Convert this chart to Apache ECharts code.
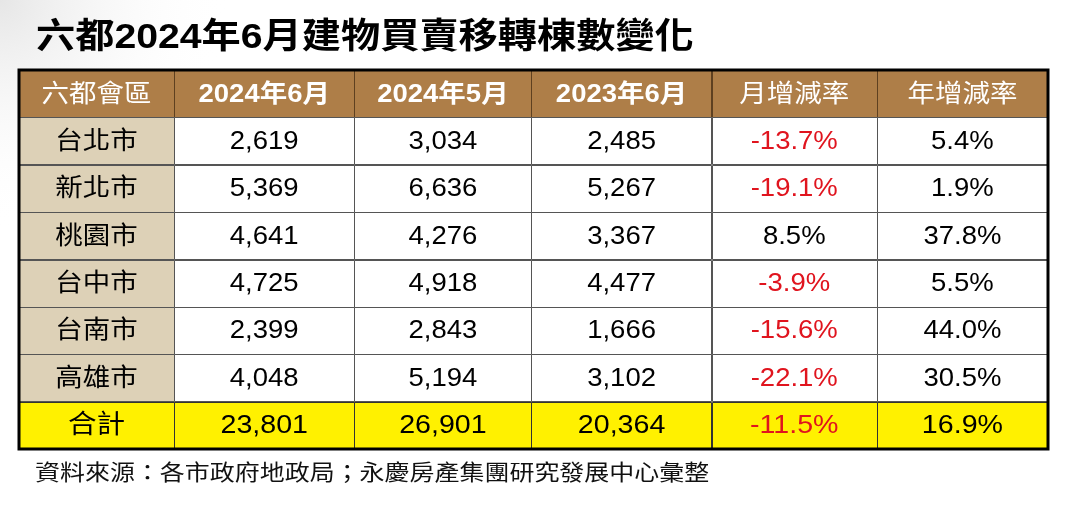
<!DOCTYPE html>
<html><head><meta charset="utf-8">
<script src="https://cdn.jsdelivr.net/npm/echarts@6/dist/echarts.min.js"></script>
<style>html,body{margin:0;padding:0;background:#fff}#c{width:1079px;height:509px}</style>
</head><body><div id="c"></div>
<script>
// ---- data ----
const titleText = '六都2024年6月建物買賣移轉棟數變化';
const sourceText = '資料來源：各市政府地政局；永慶房產集團研究發展中心彙整';
const headers = ['六都會區', '2024年6月', '2024年5月', '2023年6月', '月增減率', '年增減率'];
const cities = ['台北市', '新北市', '桃園市', '台中市', '台南市', '高雄市', '合計'];
const jun2024 = [2619, 5369, 4641, 4725, 2399, 4048, 23801];
const may2024 = [3034, 6636, 4276, 4918, 2843, 5194, 26901];
const jun2023 = [2485, 5267, 3367, 4477, 1666, 3102, 20364];
const momPct = [-13.7, -19.1, 8.5, -3.9, -15.6, -22.1, -11.5];
const yoyPct = [5.4, 1.9, 37.8, 5.5, 44.0, 30.5, 16.9];

// ---- layout (not data) ----
const colWidths = [155, 180, 177, 180, 165, 171];
const edges = [0];
colWidths.forEach(w => edges.push(edges[edges.length - 1] + w));
const rows = ['header'].concat(cities);

const fmtN = v => v.toLocaleString('en-US');
const fmtP = v => v.toFixed(1) + '%';

const cells = [];
rows.forEach((rname, r) => {
  for (let c = 0; c < 6; c++) {
    let text, kind, neg = false;
    if (r === 0) { text = headers[c]; kind = 'header'; }
    else {
      const i = r - 1;
      kind = (i === cities.length - 1) ? 'total' : (c === 0 ? 'city' : 'body');
      if (c === 0) text = cities[i];
      else if (c === 1) text = fmtN(jun2024[i]);
      else if (c === 2) text = fmtN(may2024[i]);
      else if (c === 3) text = fmtN(jun2023[i]);
      else if (c === 4) { text = fmtP(momPct[i]); neg = momPct[i] < 0; }
      else { text = fmtP(yoyPct[i]); neg = yoyPct[i] < 0; }
    }
    cells.push({ value: [c, r], text, kind, neg });
  }
});

const FONT = "'Liberation Sans', Arial, 'Noto Sans CJK TC', sans-serif";
const chart = echarts.init(document.getElementById('c'), null, { renderer: 'canvas' });

chart.setOption({
  backgroundColor: '#ffffff',
  animation: false,
  grid: { left: 19, right: 31, top: 70, bottom: 60, show: true, borderColor: '#000', borderWidth: 3, z: 10, backgroundColor: 'transparent' },
  xAxis: { type: 'value', min: 0, max: edges[edges.length - 1], show: false },
  yAxis: { type: 'category', data: rows, inverse: true, show: false },
  graphic: [
    { type: 'rect', z: -10, silent: true, shape: { x: 0, y: 0, width: 1079, height: 509 },
      style: { fill: new echarts.graphic.RadialGradient(0, 0, 0.45, [{ offset: 0, color: '#e6e6e6' }, { offset: 1, color: 'rgba(255,255,255,0)' }]) } },
    { type: 'text', x: 36, y: 38, scaleX: 1.12, z: 20,
      style: { text: titleText, fill: '#000', fontSize: 35, fontWeight: 'bold', fontFamily: FONT, align: 'left', verticalAlign: 'middle' } },
    { type: 'text', x: 35, y: 474, scaleX: 1.135, z: 20,
      style: { text: sourceText, fill: '#111', fontSize: 22, fontFamily: FONT, align: 'left', verticalAlign: 'middle' } }
  ],
  series: [{
    type: 'custom',
    coordinateSystem: 'cartesian2d',
    data: cells,
    renderItem: function (params, api) {
      const cell = cells[params.dataIndex];
      const c = api.value(0), r = api.value(1);
      const x0 = api.coord([edges[c], r])[0];
      const x1 = api.coord([edges[c + 1], r])[0];
      const yc = api.coord([0, r])[1];
      const h = api.size([0, 1])[1];
      let fill = '#ffffff', stroke = '#555', color = '#000', weight = 'normal', size = 25;
      if (cell.kind === 'header') { fill = '#ae7e48'; stroke = '#5e4020'; color = '#ffffff'; weight = (c >= 1 && c <= 3) ? 'bold' : 'normal'; size = 25; }
      else if (cell.kind === 'city') { fill = '#ddd1b7'; }
      else if (cell.kind === 'total') { fill = '#fff100'; stroke = '#333'; size = 26; }
      if (cell.neg) color = '#e0141e';
      return {
        type: 'group',
        children: [
          { type: 'rect', shape: { x: Math.round(x0) + 0.5, y: Math.round(yc - h / 2) + 0.5, width: Math.round(x1 - x0), height: Math.round(h) },
            style: { fill: fill, stroke: stroke, lineWidth: 1 } },
          { type: 'text', x: (x0 + x1) / 2, y: yc + 1, scaleX: 1.1,
            style: { text: cell.text, fill: color, fontSize: size, fontWeight: weight, fontFamily: FONT, align: 'center', verticalAlign: 'middle' } }
        ]
      };
    }
  }]
});
</script></body></html>
